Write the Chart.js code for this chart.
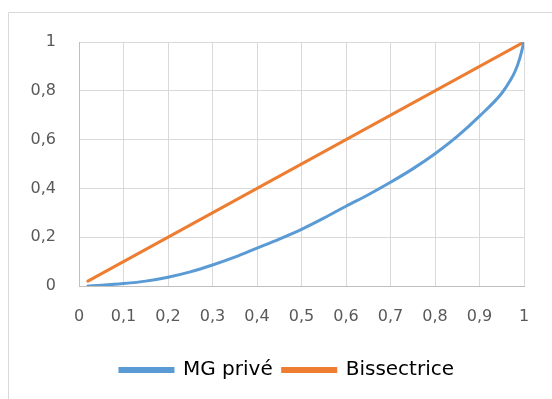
<!DOCTYPE html>
<html>
<head>
<meta charset="utf-8">
<script src="https://cdn.jsdelivr.net/npm/chart.js@4"></script>
<style>
  html, body { margin: 0; padding: 0; background: #fff; }
  #wrap { width: 552px; height: 399px; position: relative; }
</style>
</head>
<body>
<div id="wrap"><canvas id="lorenzChart" width="552" height="399"></canvas></div>
<script>
// part cumulée de la population (x) et part cumulée (y)
const popShare = [0.02, 0.05, 0.1, 0.15, 0.2, 0.25, 0.3, 0.35, 0.4, 0.45, 0.5, 0.55, 0.6, 0.65, 0.7, 0.75, 0.8, 0.85, 0.9, 0.95, 0.97, 0.98, 0.99, 1];
const mgPrive = [0, 0.003, 0.01, 0.02, 0.036, 0.058, 0.086, 0.118, 0.155, 0.192, 0.232, 0.278, 0.327, 0.374, 0.425, 0.48, 0.542, 0.613, 0.696, 0.79, 0.845, 0.88, 0.93, 1];
const bisX = [0.02, 1];
const bisY = [0.02, 1];
const xTicks = [0, 0.1, 0.2, 0.3, 0.4, 0.5, 0.6, 0.7, 0.8, 0.9, 1];
const yTicks = [0, 0.2, 0.4, 0.6, 0.8, 1];

const frComma = v => String(Math.round(v * 10) / 10).replace('.', ',');

const framePlugin = {
  id: 'frame',
  beforeDraw(chart) {
    const c = chart.ctx;
    c.save();
    c.fillStyle = '#fff';
    c.fillRect(0, 0, chart.width, chart.height);
    c.strokeStyle = '#d9d9d9';
    c.lineWidth = 1;
    c.beginPath();
    c.moveTo(8.5, chart.height);
    c.lineTo(8.5, 12.5);
    c.lineTo(chart.width, 12.5);
    c.stroke();
    c.restore();
  }
};

// la légende est un peu décalée vers la droite dans l'original
const legendShift = {
  id: 'legendShift',
  afterLayout(chart) {
    chart.legend.left += 25;
    chart.legend.right += 25;
  }
};

const config = {
  type: 'scatter',
  data: {
    datasets: [{
      label: 'MG privé',
      data: popShare.map((x, i) => ({x: x, y: mgPrive[i]})),
      showLine: true,
      borderColor: '#5b9bd5',
      backgroundColor: '#5b9bd5',
      borderWidth: 3,
      borderCapStyle: 'round',
      pointRadius: 0,
      cubicInterpolationMode: 'monotone'
    }, {
      label: 'Bissectrice',
      data: bisX.map((x, i) => ({x: x, y: bisY[i]})),
      showLine: true,
      borderColor: '#ed7d31',
      backgroundColor: '#ed7d31',
      borderWidth: 3,
      borderCapStyle: 'round',
      pointRadius: 0
    }]
  },
  options: {
    responsive: false,
    animation: false,
    layout: { padding: { left: 0, right: 28, top: 42, bottom: 9 } },
    scales: {
      x: {
        type: 'linear',
        min: 0, max: 1,
        afterBuildTicks: s => { s.ticks = xTicks.map(v => ({value: v})); },
        afterFit: s => { s.height = 64; },
        grid: { color: '#d9d9d9', lineWidth: 1, drawTicks: false },
        border: { color: '#bfbfbf' },
        ticks: {
          padding: 21,
          color: '#595959',
          font: { family: 'DejaVu Sans', size: 16 },
          maxRotation: 0,
          callback: v => frComma(v)
        }
      },
      y: {
        min: 0, max: 1,
        afterBuildTicks: s => { s.ticks = yTicks.map(v => ({value: v})); },
        afterFit: s => { s.width = 79; },
        grid: { color: '#d9d9d9', lineWidth: 1, drawTicks: false },
        border: { color: '#bfbfbf' },
        ticks: {
          padding: 23,
          color: '#595959',
          font: { family: 'DejaVu Sans', size: 16 },
          callback: v => frComma(v)
        }
      }
    },
    plugins: {
      legend: {
        position: 'bottom',
        labels: {
          boxWidth: 53,
          boxHeight: 3,
          color: '#000',
          padding: 10,
          font: { family: 'DejaVu Sans', size: 20 }
        }
      },
      tooltip: { enabled: false }
    }
  },
  plugins: [framePlugin, legendShift]
};

const lorenzChart = new Chart(document.querySelector('#lorenzChart').getContext('2d'), config);
</script>
</body>
</html>
